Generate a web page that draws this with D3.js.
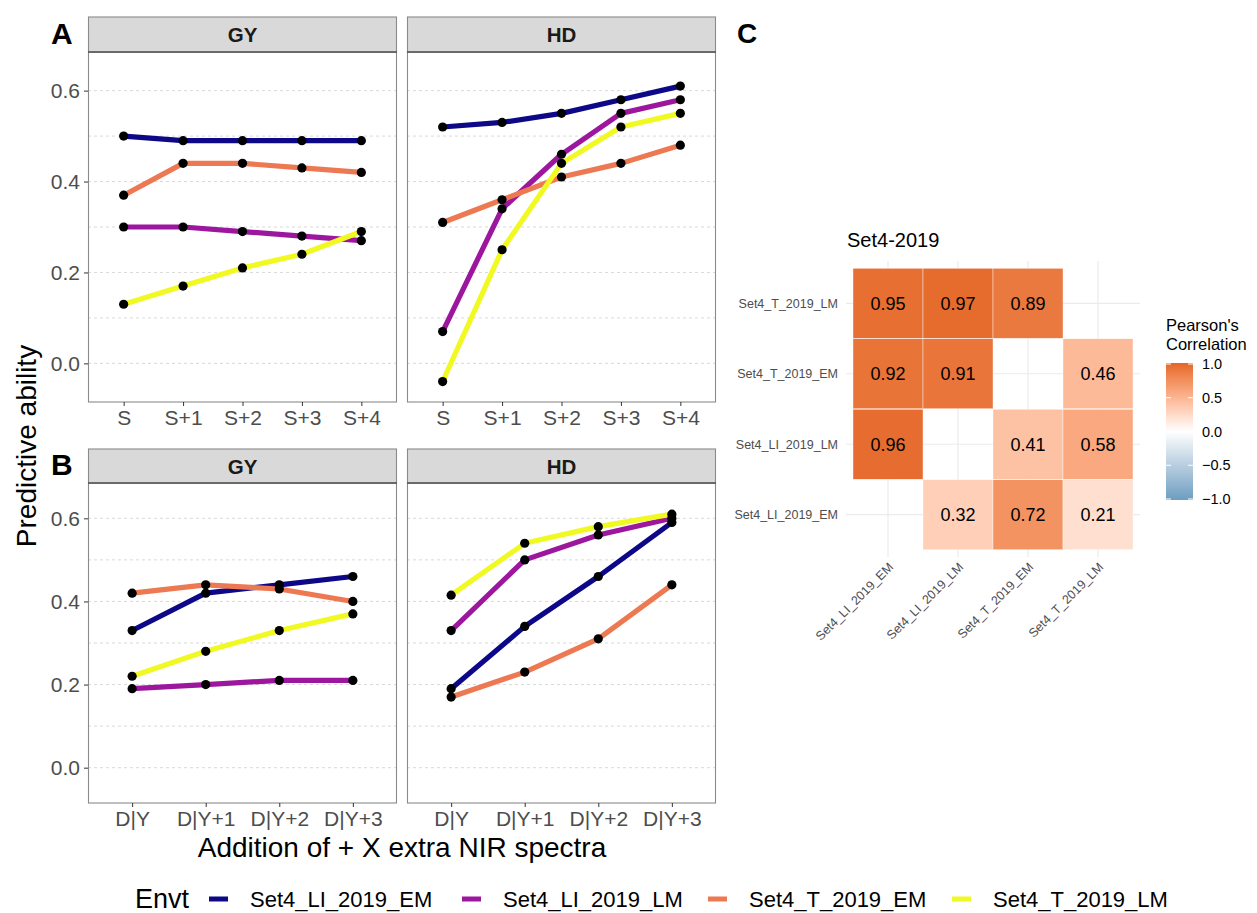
<!DOCTYPE html>
<html>
<head>
<meta charset="utf-8">
<script src="https://cdn.jsdelivr.net/npm/d3@7"></script>
<style>
  html, body { margin: 0; padding: 0; background: #fff; }
  svg { display: block; font-family: "Liberation Sans", Arial, sans-serif; }
</style>
</head>
<body>
<svg id="chart" width="1257" height="913"></svg>
<script>
// ---------------- data ----------------
const envts = ["Set4_LI_2019_EM", "Set4_LI_2019_LM", "Set4_T_2019_EM", "Set4_T_2019_LM"];
const envtColors = ["#0D0887", "#9C179E", "#ED7953", "#F0F921"];
const traits = ["GY", "HD"];
const categoriesA = ["S", "S+1", "S+2", "S+3", "S+4"];
const categoriesB = ["D|Y", "D|Y+1", "D|Y+2", "D|Y+3"];
const yTicks = [0.0, 0.2, 0.4, 0.6];
const yGrid = [0.0, 0.1, 0.2, 0.3, 0.4, 0.5, 0.6];

// Panel A (S + extra spectra)
const A_GY_LI_EM = [0.50, 0.49, 0.49, 0.49, 0.49];
const A_GY_LI_LM = [0.30, 0.30, 0.29, 0.28, 0.27];
const A_GY_T_EM  = [0.37, 0.44, 0.44, 0.43, 0.42];
const A_GY_T_LM  = [0.13, 0.17, 0.21, 0.24, 0.29];
const A_HD_LI_EM = [0.52, 0.53, 0.55, 0.58, 0.61];
const A_HD_LI_LM = [0.07, 0.34, 0.46, 0.55, 0.58];
const A_HD_T_EM  = [0.31, 0.36, 0.41, 0.44, 0.48];
const A_HD_T_LM  = [-0.04, 0.25, 0.44, 0.52, 0.55];
// Panel B (D|Y + extra spectra)
const B_GY_LI_EM = [0.33, 0.42, 0.44, 0.46];
const B_GY_LI_LM = [0.19, 0.20, 0.21, 0.21];
const B_GY_T_EM  = [0.42, 0.44, 0.43, 0.40];
const B_GY_T_LM  = [0.22, 0.28, 0.33, 0.37];
const B_HD_LI_EM = [0.19, 0.34, 0.46, 0.59];
const B_HD_LI_LM = [0.33, 0.50, 0.56, 0.60];
const B_HD_T_EM  = [0.17, 0.23, 0.31, 0.44];
const B_HD_T_LM  = [0.415, 0.54, 0.58, 0.61];

// Panel C (correlation heatmap) rows listed bottom -> top
const corrRows = ["Set4_LI_2019_EM", "Set4_LI_2019_LM", "Set4_T_2019_EM", "Set4_T_2019_LM"];
const corrCols = ["Set4_LI_2019_EM", "Set4_LI_2019_LM", "Set4_T_2019_EM", "Set4_T_2019_LM"];
const corrLI_EM = [null, 0.32, 0.72, 0.21];
const corrLI_LM = [0.96, null, 0.41, 0.58];
const corrT_EM  = [0.92, 0.91, null, 0.46];
const corrT_LM  = [0.95, 0.97, 0.89, null];
const corrLegendTicks = [1.0, 0.5, 0.0, -0.5, -1.0];

// ---------------- drawing ----------------
const svg = d3.select("#chart");
const GREY_TXT = "#4D4D4D";

const rows = [
  { label: "A", cats: categoriesA, stripTop: 17, top: 52, bottom: 402, labelY: 44,
    series: { GY: [A_GY_LI_EM, A_GY_LI_LM, A_GY_T_EM, A_GY_T_LM],
              HD: [A_HD_LI_EM, A_HD_LI_LM, A_HD_T_EM, A_HD_T_LM] } },
  { label: "B", cats: categoriesB, stripTop: 449, top: 483, bottom: 803, labelY: 475,
    series: { GY: [B_GY_LI_EM, B_GY_LI_LM, B_GY_T_EM, B_GY_T_LM],
              HD: [B_HD_LI_EM, B_HD_LI_LM, B_HD_T_EM, B_HD_T_LM] } }
];
const panelX = { GY: [88, 397], HD: [407, 716] };

rows.forEach(r => {
  const y = d3.scaleLinear().domain([-0.085, 0.685]).range([r.bottom, r.top]);
  svg.append("text").attr("x", 51).attr("y", r.labelY)
    .attr("font-size", 30).attr("font-weight", "bold").attr("fill", "#000").text(r.label);

  traits.forEach((t, ti) => {
    const [x0, x1] = panelX[t];
    const x = d3.scalePoint().domain(r.cats).range([x0, x1]).padding(0.6);
    const g = svg.append("g");

    g.append("rect").attr("x", x0).attr("y", r.top).attr("width", x1 - x0).attr("height", r.bottom - r.top)
      .attr("fill", "#fff");
    g.selectAll("line.grid").data(yGrid).enter().append("line")
      .attr("x1", x0).attr("x2", x1).attr("y1", d => y(d)).attr("y2", d => y(d))
      .attr("stroke", "#D5D5D5").attr("stroke-width", 0.9).attr("stroke-dasharray", "3,3");

    const line = d3.line().x((d, i) => x(r.cats[i])).y(d => y(d));
    r.series[t].forEach((vals, si) => {
      g.append("path").datum(vals).attr("d", line)
        .attr("fill", "none").attr("stroke", envtColors[si]).attr("stroke-width", 5.2)
        .attr("stroke-linejoin", "round");
    });
    r.series[t].forEach(vals => {
      g.selectAll(null).data(vals).enter().append("circle")
        .attr("cx", (d, i) => x(r.cats[i])).attr("cy", d => y(d)).attr("r", 4.6).attr("fill", "#000");
    });

    g.append("rect").attr("x", x0 + 0.5).attr("y", r.top).attr("width", x1 - x0 - 1).attr("height", r.bottom - r.top)
      .attr("fill", "none").attr("stroke", "#8A8A8A").attr("stroke-width", 1.1);
    g.append("rect").attr("x", x0 + 0.5).attr("y", r.stripTop).attr("width", x1 - x0 - 1).attr("height", r.top - r.stripTop)
      .attr("fill", "#D9D9D9").attr("stroke", "#8A8A8A").attr("stroke-width", 1.1);
    g.append("line").attr("x1", x0).attr("x2", x1).attr("y1", r.top).attr("y2", r.top)
      .attr("stroke", "#555").attr("stroke-width", 1.3);
    g.append("text").attr("x", (x0 + x1) / 2).attr("y", (r.stripTop + r.top) / 2 + 7.5)
      .attr("text-anchor", "middle").attr("font-size", 20.5).attr("font-weight", "bold").attr("fill", "#1A1A1A").text(t);

    const xa = g.append("g").attr("transform", `translate(0,${r.bottom})`)
      .call(d3.axisBottom(x).tickSize(4).tickPadding(4));
    xa.select(".domain").remove();
    xa.selectAll(".tick line").attr("stroke", "#333");
    xa.selectAll(".tick text").attr("font-size", 21).attr("fill", GREY_TXT)
      .attr("font-family", "Liberation Sans, Arial, sans-serif");

    if (ti === 0) {
      const ya = g.append("g").attr("transform", `translate(${x0},0)`)
        .call(d3.axisLeft(y).tickValues(yTicks).tickFormat(d3.format(".1f")).tickSize(4).tickPadding(4));
      ya.select(".domain").remove();
      ya.selectAll(".tick line").attr("stroke", "#333");
      ya.selectAll(".tick text").attr("font-size", 21).attr("fill", GREY_TXT)
        .attr("font-family", "Liberation Sans, Arial, sans-serif");
    }
  });
});

svg.append("text").attr("transform", "translate(36,446) rotate(-90)")
  .attr("text-anchor", "middle").attr("font-size", 28).attr("fill", "#000").text("Predictive ability");
svg.append("text").attr("x", 402).attr("y", 857)
  .attr("text-anchor", "middle").attr("font-size", 28).attr("fill", "#000").text("Addition of + X extra NIR spectra");

// bottom legend
const legY = 899;
svg.append("text").attr("x", 135).attr("y", legY + 9).attr("font-size", 27).attr("fill", "#000").text("Envt");
const legKeyX = [209, 462, 708, 952];
envts.forEach((e, i) => {
  svg.append("line").attr("x1", legKeyX[i]).attr("x2", legKeyX[i] + 19).attr("y1", legY).attr("y2", legY)
    .attr("stroke", envtColors[i]).attr("stroke-width", 5);
  svg.append("text").attr("x", legKeyX[i] + 41).attr("y", legY + 8)
    .attr("font-size", 22).attr("fill", "#000").text(e);
});

// ---------------- panel C: heatmap ----------------
svg.append("text").attr("x", 737).attr("y", 43).attr("font-size", 28).attr("font-weight", "bold").text("C");
svg.append("text").attr("x", 847).attr("y", 247).attr("font-size", 20).attr("fill", "#000").text("Set4-2019");

const hx = d3.scalePoint().domain(corrCols).range([846, 1140]).padding(0.6);
const hy = d3.scalePoint().domain(corrRows).range([557, 261]).padding(0.6);
const step = hx.step();
const corrMatrix = [corrLI_EM, corrLI_LM, corrT_EM, corrT_LM];
const fill = d3.scaleLinear().domain([-1, 0, 1]).range(["#6D9EC1", "#FFFFFF", "#E46726"])
  .interpolate(d3.interpolateLab);

const hg = svg.append("g");
hg.selectAll("line.vg").data(corrCols).enter().append("line")
  .attr("x1", d => hx(d)).attr("x2", d => hx(d)).attr("y1", 261).attr("y2", 557)
  .attr("stroke", "#EBEBEB").attr("stroke-width", 1.2);
hg.selectAll("line.hg").data(corrRows).enter().append("line")
  .attr("y1", d => hy(d)).attr("y2", d => hy(d)).attr("x1", 846).attr("x2", 1140)
  .attr("stroke", "#EBEBEB").attr("stroke-width", 1.2);

const cells = [];
corrMatrix.forEach((rowVals, ri) => rowVals.forEach((v, ci) => {
  if (v !== null) cells.push({ r: corrRows[ri], c: corrCols[ci], v });
}));
hg.selectAll("rect.cell").data(cells).enter().append("rect")
  .attr("x", d => hx(d.c) - step / 2).attr("y", d => hy(d.r) - step / 2)
  .attr("width", step).attr("height", step)
  .attr("fill", d => fill(d.v)).attr("stroke", "#fff").attr("stroke-width", 0.4);
hg.selectAll("text.cell").data(cells).enter().append("text")
  .attr("x", d => hx(d.c)).attr("y", d => hy(d.r) + 6.5)
  .attr("text-anchor", "middle").attr("font-size", 18).attr("fill", "#000")
  .text(d => d3.format(".2f")(d.v));

hg.selectAll("text.yl").data(corrRows).enter().append("text")
  .attr("x", 838).attr("y", d => hy(d) + 4.5).attr("text-anchor", "end")
  .attr("font-size", 12.5).attr("fill", GREY_TXT).text(d => d);
hg.selectAll("text.xl").data(corrCols).enter().append("text")
  .attr("transform", d => `translate(${hx(d) + 6},${568}) rotate(-45)`)
  .attr("text-anchor", "end").attr("font-size", 12.5).attr("fill", GREY_TXT).text(d => d);

// colour legend
svg.append("text").attr("x", 1166).attr("y", 331).attr("font-size", 16.5).attr("fill", "#000").text("Pearson's");
svg.append("text").attr("x", 1166).attr("y", 350).attr("font-size", 16.5).attr("fill", "#000").text("Correlation");
const defs = svg.append("defs");
const grad = defs.append("linearGradient").attr("id", "cgrad").attr("x1", 0).attr("x2", 0).attr("y1", 0).attr("y2", 1);
d3.range(0, 1.0001, 0.05).forEach(f => {
  grad.append("stop").attr("offset", f).attr("stop-color", fill(1 - 2 * f));
});
const cb = d3.scaleLinear().domain([1, -1]).range([364, 499]);
svg.append("rect").attr("x", 1166).attr("y", 363).attr("width", 27).attr("height", 137).attr("fill", "url(#cgrad)");
corrLegendTicks.forEach(t => {
  svg.append("line").attr("x1", 1166).attr("x2", 1171).attr("y1", cb(t)).attr("y2", cb(t)).attr("stroke", "#fff");
  svg.append("line").attr("x1", 1188).attr("x2", 1193).attr("y1", cb(t)).attr("y2", cb(t)).attr("stroke", "#fff");
});
svg.selectAll("text.cbl").data(corrLegendTicks).enter().append("text")
  .attr("x", 1202).attr("y", d => cb(d) + 5).attr("font-size", 14.5).attr("fill", "#000")
  .text(d => d3.format(".1f")(d));
</script>
</body>
</html>
